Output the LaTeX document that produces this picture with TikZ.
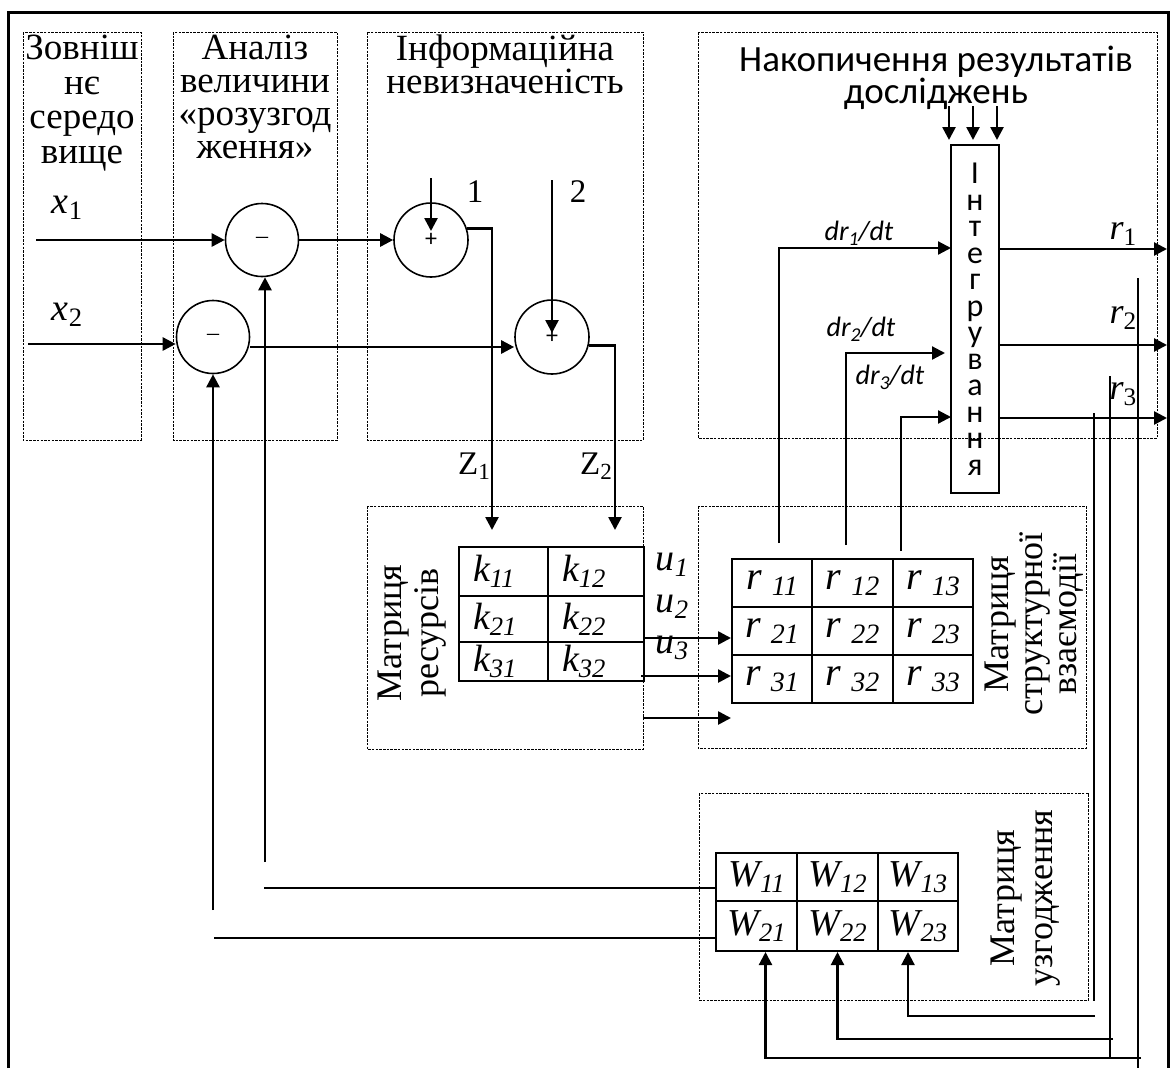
\documentclass[tikz,border=0pt]{standalone}
\usepackage{fontspec}
\setmainfont{Liberation Serif}
\newfontfamily\calib{Carlito}
\usetikzlibrary{arrows.meta, positioning, calc}
\newcommand{\low}[1]{\raisebox{-0.35ex}{\scalebox{0.7}{#1}}}

\begin{document}
\begin{tikzpicture}[
  x=1pt, y=-1pt,
  >={Triangle[length=13pt,width=13pt]},
  sig/.style={draw, line width=2.6pt, ->},
  wire/.style={draw, line width=1.8pt},
  zone/.style={draw, line width=0.8pt, dash pattern=on 2.5pt off 1.2pt},
  summer/.style={circle, draw, line width=1.6pt, minimum size=73pt, inner sep=0pt},
  cell/.style={draw, line width=2pt, inner sep=0pt, anchor=north west, font=\fontsize{38}{38}\selectfont\itshape},
  kcell/.style={cell, inner xsep=14pt, align=left},
  head/.style={anchor=north, align=center, inner sep=0pt, font=\fontsize{37}{33}\selectfont},
  var/.style={inner sep=0pt, font=\fontsize{38}{38}\selectfont\itshape},
  side/.style={rotate=90, align=center, inner sep=0pt, font=\fontsize{36}{37}\selectfont}
  ]
  \useasboundingbox (0,0) rectangle (1172,1068);
  % frame, open at the bottom
  \draw[line width=3pt] (8,1068) -- (8,12) -- (1168,12) -- (1168,1068);

  % zones
  \draw[zone] (23,32) rectangle (141,440);
  \draw[zone] (173,32) rectangle (337,440);
  \draw[zone] (367,32) rectangle (643,440);
  \draw[zone] (698,32) rectangle (1157,438);
  \draw[zone] (367,506) rectangle (643,749);
  \draw[zone] (698,506) rectangle (1086,748);
  \draw[zone] (699,793) rectangle (1088,1000);

  \node[head, font=\fontsize{37}{34.5}\selectfont] (env) at (82,35) {Зовніш\\нє\\середо\\вище};
  \node[head] (anl) at (255,35) {Аналіз\\величини\\«розузгод\\ження»};
  \node[head] (inf) at (505,35) {Інформаційна\\невизначеність};
  \node[head, font=\calib\fontsize{37}{32}\selectfont] (acc) at (936,46) {Накопичення результатів\\досліджень};

  % comparison and summing elements
  \node[summer, font=\fontsize{24}{24}\selectfont] (minA) at (262,240) {–};
  \node[summer, font=\fontsize{24}{24}\selectfont] (minB) at (213,337) {–};
  \node[summer, minimum size=74pt, font=\calib\fontsize{24}{24}\selectfont] (plusA) at (431,240) {\raisebox{-4pt}{+}};
  \node[summer, minimum size=74pt, font=\calib\fontsize{24}{24}\selectfont] (plusB) at (552,337) {\raisebox{-4pt}{+}};

  \coordinate (x1in) at (36,240);
  \draw[sig] (x1in) -- (minA);
  \node[var] (x1) at (67,208) {x\low{\upshape 1}};
  \coordinate (x2in) at (28,344);
  \draw[sig] (x2in) -- (x2in -| minB.west);
  \node[var] (x2) at (67,315) {x\low{\upshape 2}};

  \draw[sig] (minA) -- (plusA);
  \coordinate (mBo) at ($(minB.east)+(0,10)$);
  \draw[sig] (mBo) -- (mBo -| plusB.west);

  \coordinate (in1) at (431,178);
  \draw[sig] (in1) -- ($(plusA)+(0,-9)$);
  \node[font=\fontsize{33}{33}\selectfont] (n1) at (475,192) {1};
  \coordinate (in2) at (552,180);
  \draw[sig] (in2) -- ($(plusB)+(0,-4)$);
  \node[font=\fontsize{33}{33}\selectfont] (n2) at (578,192) {2};

  \coordinate (z1) at (492,530);
  \coordinate (z2) at (615,530);
  \draw[sig] (plusA.18) -| (z1);
  \draw[sig] (plusB.-13) -| (z2);
  \node[font=\fontsize{33}{33}\selectfont] (Z1) at (474,466) {Z\low{1}};
  \node[font=\fontsize{33}{33}\selectfont] (Z2) at (596,466) {Z\low{2}};

  % resource matrix
  \node[kcell, text width=61pt, minimum height=49pt] (k11) at (458,546) {k\low{11}};
  \node[kcell, text width=68pt, minimum height=49pt] (k12) at (547,546) {k\low{12}};
  \node[kcell, text width=61pt, minimum height=46pt] (k21) at (458,595) {k\low{21}};
  \node[kcell, text width=68pt, minimum height=46pt] (k22) at (547,595) {k\low{22}};
  \node[kcell, text width=61pt, minimum height=39pt] (k31) at (458,641) {k\low{31}};
  \node[kcell, text width=68pt, minimum height=39pt] (k32) at (547,641) {k\low{32}};
  \node[side] (resL) at (412,633) {Матриця\\ресурсів};

  \node[var] (u1) at (672,565) {u\low{1}};
  \node[var] (u2) at (672,607) {u\low{2}};
  \node[var] (u3) at (672,648) {u\low{3}};

  % structural interaction matrix
  \node[cell, minimum width=80pt, minimum height=48pt, font=\fontsize{40}{40}\selectfont\itshape] (r11) at (731,558) {r \low{11}};
  \node[cell, minimum width=81pt, minimum height=48pt, font=\fontsize{40}{40}\selectfont\itshape] (r12) at (811,558) {r \low{12}};
  \node[cell, minimum width=80pt, minimum height=48pt, font=\fontsize{40}{40}\selectfont\itshape] (r13) at (892,558) {r \low{13}};
  \node[cell, minimum width=80pt, minimum height=48pt, font=\fontsize{40}{40}\selectfont\itshape] (r21) at (731,606) {r \low{21}};
  \node[cell, minimum width=81pt, minimum height=48pt, font=\fontsize{40}{40}\selectfont\itshape] (r22) at (811,606) {r \low{22}};
  \node[cell, minimum width=80pt, minimum height=48pt, font=\fontsize{40}{40}\selectfont\itshape] (r23) at (892,606) {r \low{23}};
  \node[cell, minimum width=80pt, minimum height=48pt, font=\fontsize{40}{40}\selectfont\itshape] (r31) at (731,654) {r \low{31}};
  \node[cell, minimum width=81pt, minimum height=48pt, font=\fontsize{40}{40}\selectfont\itshape] (r32) at (811,654) {r \low{32}};
  \node[cell, minimum width=80pt, minimum height=48pt, font=\fontsize{40}{40}\selectfont\itshape] (r33) at (892,654) {r \low{33}};
  \node[side, font=\fontsize{36}{34}\selectfont] (strL) at (1034,624) {Матриця\\структурної\\взаємодії};

  \coordinate (ua) at (643,638);
  \coordinate (ub) at (641,676);
  \coordinate (uc) at (643,718);
  \draw[sig] (ua) -- (ua -| r21.west);
  \draw[sig] (ub) -- (ub -| r31.west);
  \draw[sig] (uc) -- (uc -| r31.west);

  % integrator
  \node[draw, line width=2pt, minimum width=48pt, minimum height=348pt, inner sep=0pt, align=center,
        font=\calib\fontsize{32}{26.5}\selectfont] (integ) at (975,319) {І\\н\\т\\е\\г\\р\\у\\в\\а\\н\\н\\я};
  \foreach \dx in {-1,23,47}
    \draw[sig] ($(integ.north west)+(\dx,-38)$) -- ($(integ.north west)+(\dx,-4)$);

  \coordinate (d1) at (779,543);
  \coordinate (d2) at (846,545);
  \coordinate (d3) at (901,551);
  \coordinate (i1) at (951,248);
  \coordinate (i2) at (945,353);
  \coordinate (i3) at (951,417);
  \draw[sig, line width=2.2pt] (d1) |- (i1);
  \draw[sig, line width=2.2pt] (d2) |- (i2);
  \draw[sig, line width=2.2pt] (d3) |- (i3);
  \node[font=\calib\itshape\fontsize{28}{28}\selectfont] (dr1) at (859,233) {dr\low{1}/dt};
  \node[font=\calib\itshape\fontsize{28}{28}\selectfont] (dr2) at (861,329) {dr\low{2}/dt};
  \node[font=\calib\itshape\fontsize{28}{28}\selectfont] (dr3) at (890,377) {dr\low{3}/dt};

  \coordinate (o1) at (1167,249);
  \coordinate (o2) at (1167,345);
  \coordinate (o3) at (1167,418);
  \draw[sig] (o1 -| integ.east) -- (o1);
  \draw[sig] (o2 -| integ.east) -- (o2);
  \draw[sig] (o3 -| integ.east) -- (o3);
  \node[var, font=\fontsize{36}{36}\selectfont\itshape] (rr1) at (1123,234) {r\low{\upshape 1}};
  \node[var, font=\fontsize{36}{36}\selectfont\itshape] (rr2) at (1123,318) {r\low{\upshape 2}};
  \node[var, font=\fontsize{36}{36}\selectfont\itshape] (rr3) at (1123,394) {r\low{\upshape 3}};

  % agreement matrix
  \node[cell, minimum width=81pt, minimum height=48pt] (w11) at (715,852) {W\low{11}};
  \node[cell, minimum width=81pt, minimum height=48pt] (w12) at (796,852) {W\low{12}};
  \node[cell, minimum width=80pt, minimum height=48pt] (w13) at (877,852) {W\low{13}};
  \node[cell, minimum width=81pt, minimum height=50pt] (w21) at (715,900) {W\low{21}};
  \node[cell, minimum width=81pt, minimum height=50pt] (w22) at (796,900) {W\low{22}};
  \node[cell, minimum width=80pt, minimum height=50pt] (w23) at (877,900) {W\low{23}};
  \node[side, font=\fontsize{36}{38}\selectfont] (agrL) at (1026,898) {Матриця\\узгодження};

  % feedback from the outputs
  \coordinate (f1) at (1138,278);
  \coordinate (f2) at (1110,376);
  \coordinate (f3) at (1094,413);
  \draw[wire] (f1) -- (1138,1068);
  \draw[wire] (f2) -- (1110,1057);
  \draw[wire] (f3) -- (1094,1001);
  \coordinate (g1) at (1141,1058);
  \coordinate (g2) at (1113,1039);
  \coordinate (g3) at (1095,1016);
  \draw[sig, line width=2.2pt] (g1) -| ($(w21.south)+(9,0)$);
  \draw[sig, line width=2.2pt] (g2) -| (w22.south);
  \draw[sig, line width=2.2pt] (g3) -| ($(w23.south)+(-10,0)$);

  % feedback to the comparison elements
  \coordinate (h1) at (264,888);
  \coordinate (h2) at (214,938);
  \draw[wire] (h1) -- (h1 -| w11.west);
  \draw[wire] (h2) -- (h2 -| w21.west);
  \coordinate (v1) at (265,862);
  \coordinate (v2) at (213,910);
  \draw[sig] (v1) -- (v1 |- minA.south);
  \draw[sig] (v2) -- (v2 |- minB.south);
\end{tikzpicture}
\end{document}
